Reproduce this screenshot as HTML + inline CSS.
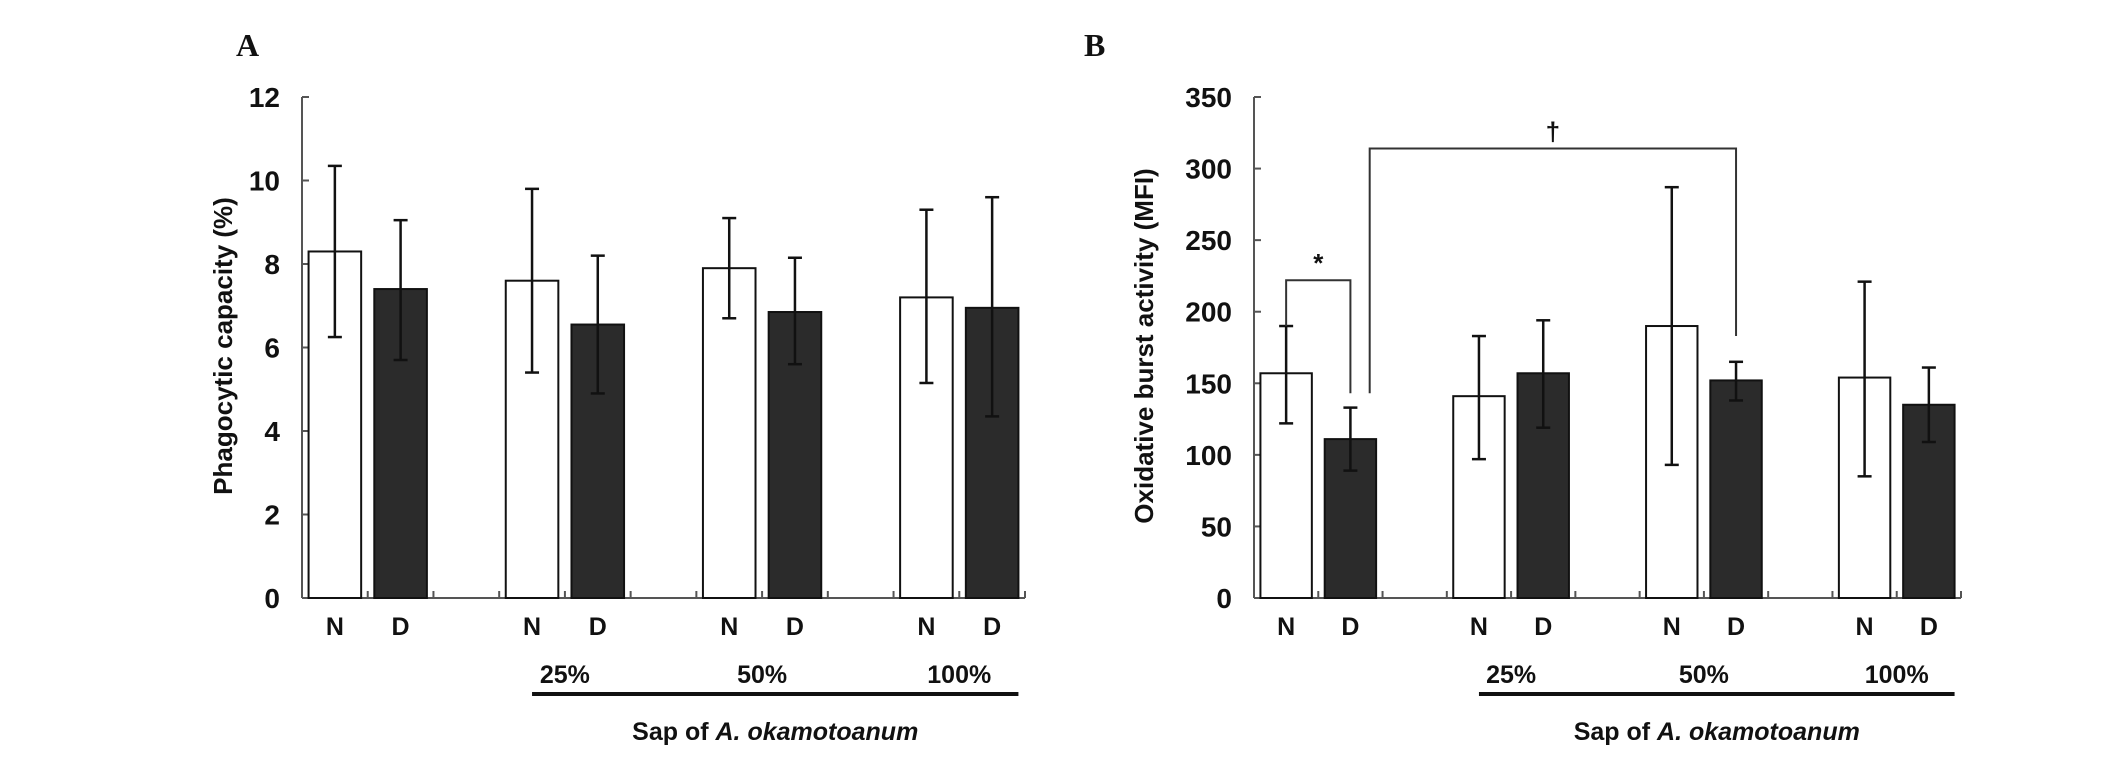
<!DOCTYPE html>
<html><head><meta charset="utf-8"><style>
html,body{margin:0;padding:0;background:#fff;}
svg{display:block;}
text{font-family:"Liberation Sans",Arial,sans-serif;font-weight:bold;fill:#111;}
</style></head><body>
<svg id="chart" width="2126" height="759" viewBox="0 0 2126 759" xmlns="http://www.w3.org/2000/svg">
<g id="gA"></g>
<g id="gB"></g>
</svg>
<script>
const categories = ["N","D","","N","D","","N","D","","N","D"];
const groupLabels = ["25%","50%","100%"];
const aValues = [8.3, 7.4, null, 7.6, 6.55, null, 7.9, 6.85, null, 7.2, 6.95];
const aErrHigh = [10.35, 9.05, null, 9.8, 8.2, null, 9.1, 8.15, null, 9.3, 9.6];
const aErrLow = [6.25, 5.7, null, 5.4, 4.9, null, 6.7, 5.6, null, 5.15, 4.35];
const aTicks = [0, 2, 4, 6, 8, 10, 12];
const bValues = [157, 111, null, 141, 157, null, 190, 152, null, 154, 135];
const bErrHigh = [190, 133, null, 183, 194, null, 287, 165, null, 221, 161];
const bErrLow = [122, 89, null, 97, 119, null, 93, 138, null, 85, 109];
const bTicks = [0, 50, 100, 150, 200, 250, 300, 350];
const starBracket = {from: 0, to: 1, top: 222, leftEnd: 190, rightEnd: 143, mark: "*"};
const daggerBracket = {from: 1, to: 7, top: 314, leftEnd: 143, rightEnd: 183, mark: "†"};

const NS = "http://www.w3.org/2000/svg";
function mk(parent, tag, attrs, txt) {
  const e = document.createElementNS(NS, tag);
  for (const k in attrs) e.setAttribute(k, attrs[k]);
  if (txt !== undefined) e.textContent = txt;
  parent.appendChild(e);
  return e;
}

function drawPanel(g, cfg) {
  const x0 = cfg.x0, x1 = cfg.x1, y0 = 598, yTop = 97;
  const slot = (x1 - x0) / categories.length;
  const ymax = cfg.ticks[cfg.ticks.length - 1];
  const yS = v => y0 - (v / ymax) * (y0 - yTop);
  const xC = i => x0 + slot * (i + 0.5);

  const lbl = mk(g, "text", {x: cfg.labelX, y: 56, "font-size": 32, style: "font-family:'Liberation Serif',serif;font-weight:bold"}, cfg.label);
  
  

  const ax = mk(g, "line", {x1: x0, y1: yTop, x2: x0, y2: y0, stroke: "#555", "stroke-width": 2});
  
  
  const bx = mk(g, "line", {x1: x0, y1: y0, x2: x1, y2: y0, stroke: "#555", "stroke-width": 2});
  
  

  cfg.ticks.forEach(t => {
    const y = yS(t);
    const tk = mk(g, "line", {x1: x0, y1: y, x2: x0 + 7, y2: y, stroke: "#555", "stroke-width": 2});
    
    
    const tl = mk(g, "text", {x: x0 - 22, y: y + 10, "font-size": 28, "text-anchor": "end"}, String(t));
    
    
  });
  for (let i = 1; i <= categories.length; i++) {
    const xt = x0 + slot * i;
    const tk = mk(g, "line", {x1: xt, y1: y0, x2: xt, y2: y0 - 7, stroke: "#555", "stroke-width": 2});
    
    
  }

  const yt = mk(g, "text", {x: 0, y: 0, "font-size": 26, "text-anchor": "middle", transform: `translate(${cfg.titleX},346) rotate(-90)`}, cfg.title);
  
  

  const bw = slot * 0.8;
  categories.forEach((c, i) => {
    if (c === "") return;
    const v = cfg.values[i];
    const dark = c === "D";
    const r = mk(g, "rect", {x: xC(i) - bw / 2, y: yS(v), width: bw, height: y0 - yS(v), fill: dark ? "#2b2b2b" : "#fff", stroke: "#111", "stroke-width": 2});
    
    
    const eh = cfg.hi[i], el = cfg.lo[i];
    const eg = mk(g, "g", {stroke: "#111", "stroke-width": 2.5});
    
    
    mk(eg, "line", {x1: xC(i), y1: yS(eh), x2: xC(i), y2: yS(el)});
    mk(eg, "line", {x1: xC(i) - 7, y1: yS(eh), x2: xC(i) + 7, y2: yS(eh)});
    mk(eg, "line", {x1: xC(i) - 7, y1: yS(el), x2: xC(i) + 7, y2: yS(el)});
    const cl = mk(g, "text", {x: xC(i), y: 635, "font-size": 25, "text-anchor": "middle"}, c);
    
    
  });

  groupLabels.forEach((gl, k) => {
    const cx = x0 + slot * (4 + 3 * k);
    const t = mk(g, "text", {x: cx, y: 683, "font-size": 25, "text-anchor": "middle"}, gl);
    
    
  });
  const ul = mk(g, "line", {x1: x0 + slot * 3.5, y1: 694, x2: x0 + slot * 10.9, y2: 694, stroke: "#111", "stroke-width": 4});
  
  
  const st = mk(g, "text", {x: x0 + slot * 7.2, y: 740, "font-size": 25, "text-anchor": "middle"});
  
  
  st.appendChild(document.createTextNode("Sap of "));
  mk(st, "tspan", {"font-style": "italic"}, "A. okamotoanum");

  (cfg.brackets || []).forEach((b) => {
    const xa = b.mark === "†" ? x0 + slot * 1.8 : xC(b.from);
    const xb = xC(b.to);
    const bg = mk(g, "path", {d: `M${xa},${yS(b.leftEnd)} V${yS(b.top)} H${xb} V${yS(b.rightEnd)}`, fill: "none", stroke: "#333", "stroke-width": 2});
    
    
    const mt = mk(g, "text", {x: (xa + xb) / 2, y: yS(b.top) - 8, "font-size": 26, "text-anchor": "middle"}, b.mark);
    
    
  });
}

drawPanel(document.getElementById("gA"), {x0: 302, x1: 1025, label: "A", labelX: 236, titleX: 232,
  title: "Phagocytic capacity (%)", values: aValues, hi: aErrHigh, lo: aErrLow, ticks: aTicks});
drawPanel(document.getElementById("gB"), {x0: 1254, x1: 1961, label: "B", labelX: 1084, titleX: 1153,
  title: "Oxidative burst activity (MFI)", values: bValues, hi: bErrHigh, lo: bErrLow, ticks: bTicks,
  brackets: [starBracket, daggerBracket]});
</script>
</body></html>
